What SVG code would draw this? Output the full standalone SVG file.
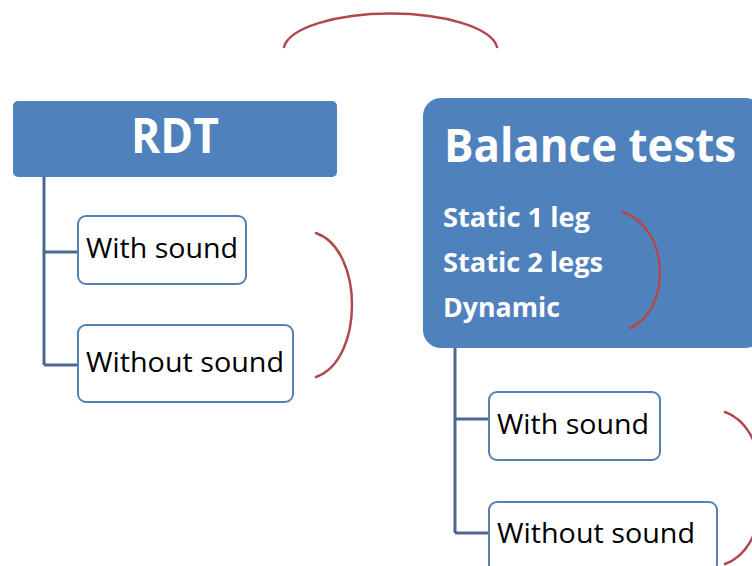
<svg xmlns="http://www.w3.org/2000/svg" width="752" height="566" viewBox="0 0 752 566">
<style>
.head{fill:#4f81bd}
.child{fill:#fff;stroke:#5580b3;stroke-width:2}
.conn{fill:none;stroke:#4a6890;stroke-width:3}
.brk{fill:none;stroke:#b0484e;stroke-width:2.5;stroke-linecap:round}
.ht{font-family:"Open Sans","Liberation Sans",sans-serif;font-weight:bold;fill:#fff}
.ct{font-family:"Open Sans","Liberation Sans",sans-serif;font-size:27px;fill:#000}
</style>
<rect width="752" height="566" fill="#fff"/>
<g id="connectors">
<path class="conn" d="M44 177 V365 M44 252 H78 M44 365 H78"/>
<path class="conn" d="M455 348 V533 M455 419 H489 M455 533 H489"/>
</g>
<g id="rdt">
<rect class="head" x="13" y="101" width="324" height="76" rx="5"/>
<text class="ht" x="175" y="153" font-size="48" text-anchor="middle" textLength="88" lengthAdjust="spacingAndGlyphs">RDT</text>
</g>
<g id="rdt-with">
<rect class="child" x="78" y="216" width="168" height="68" rx="8"/>
<text class="ct" x="86" y="258" textLength="152" lengthAdjust="spacingAndGlyphs">With sound</text>
</g>
<g id="rdt-without">
<rect class="child" x="78" y="325" width="215" height="77" rx="8"/>
<text class="ct" x="86" y="372" textLength="198" lengthAdjust="spacingAndGlyphs">Without sound</text>
</g>
<g id="balance">
<rect class="head" x="423" y="98" width="340" height="250" rx="18"/>
<text class="ht" x="444" y="162" font-size="46" textLength="292" lengthAdjust="spacingAndGlyphs">Balance tests</text>
<text class="ht" x="443" y="227" font-size="26" textLength="147" lengthAdjust="spacingAndGlyphs">Static 1 leg</text>
<text class="ht" x="443" y="272" font-size="26" textLength="160" lengthAdjust="spacingAndGlyphs">Static 2 legs</text>
<text class="ht" x="443" y="317" font-size="26" textLength="117" lengthAdjust="spacingAndGlyphs">Dynamic</text>
<path class="brk" d="M623 212 C672 230 670 312 630 328" stroke="#a84a5c"/>
</g>
<g id="bal-with">
<rect class="child" x="489" y="392" width="171" height="68" rx="8"/>
<text class="ct" x="497" y="434" textLength="152" lengthAdjust="spacingAndGlyphs">With sound</text>
</g>
<g id="bal-without">
<rect class="child" x="489" y="502" width="228" height="70" rx="8"/>
<text class="ct" x="497" y="543" textLength="198" lengthAdjust="spacingAndGlyphs">Without sound</text>
</g>
<g id="brackets">
<path class="brk" d="M316 233 C364 250 364 360 316 377"/>
<path class="brk" d="M725 412 C776 430 776 546 725 564"/>
<path class="brk" d="M284 47 A107 37 0 0 1 497 47"/>
</g>
</svg>
